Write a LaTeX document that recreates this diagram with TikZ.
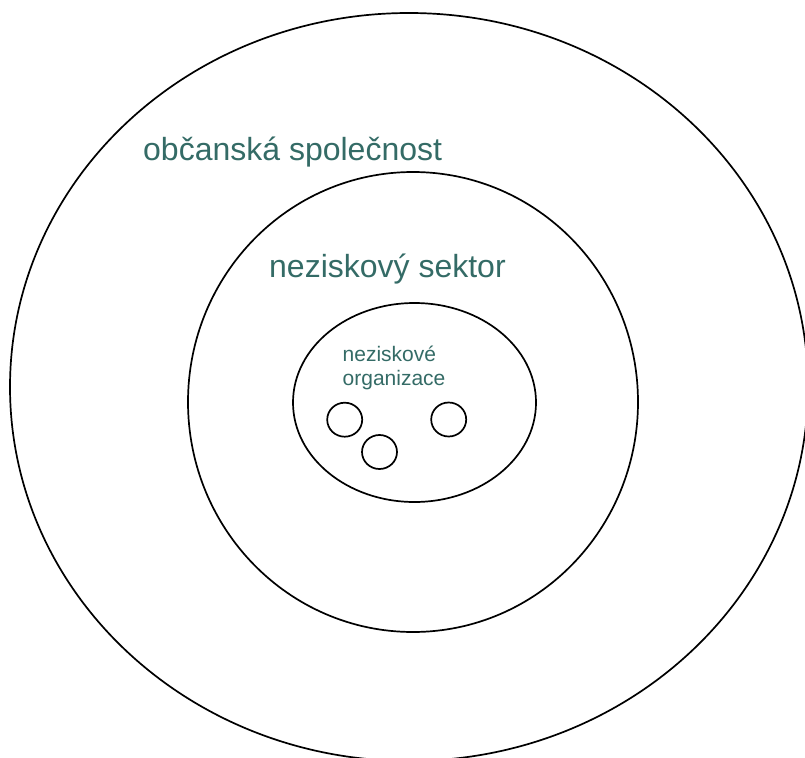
\documentclass[tikz,border=0pt]{standalone}
\usepackage{fontspec}
\setmainfont{Liberation Sans}
\definecolor{labelteal}{RGB}{52,107,102}
\begin{document}
\begin{tikzpicture}[x=1pt,y=-1pt,
  ring/.style={draw=black,line width=1.7pt},
  lbl/.style={text=labelteal,inner sep=0pt,anchor=base west}]
\useasboundingbox (0,0) rectangle (805,757);
\begin{scope}
\clip (0,0) rectangle (805,757);
% outer society ring
\draw[ring] (409,387) ellipse [x radius=399,y radius=374];
\end{scope}
% non-profit sector ring
\draw[ring] (413,402) ellipse [x radius=225,y radius=230];
% organisations ring
\draw[ring] (414.5,402.5) ellipse [x radius=121.5,y radius=99.5];
% individual organisations
\draw[ring] (344.7,419.7) ellipse [x radius=17.5,y radius=17];
\draw[ring] (379.5,452) ellipse [x radius=17.5,y radius=17];
\draw[ring] (448.7,419.5) ellipse [x radius=17.5,y radius=17];
% labels
\node[lbl,font=\fontsize{32}{36}\selectfont] (obc) at (143,160) {občanská společnost};
\node[lbl,font=\fontsize{32}{36}\selectfont] (nsek) at (269,277) {neziskový sektor};
\node[lbl,font=\fontsize{21}{23.3}\selectfont,align=left] (norg) at (342.5,385) {neziskové\\organizace};
\end{tikzpicture}
\end{document}
